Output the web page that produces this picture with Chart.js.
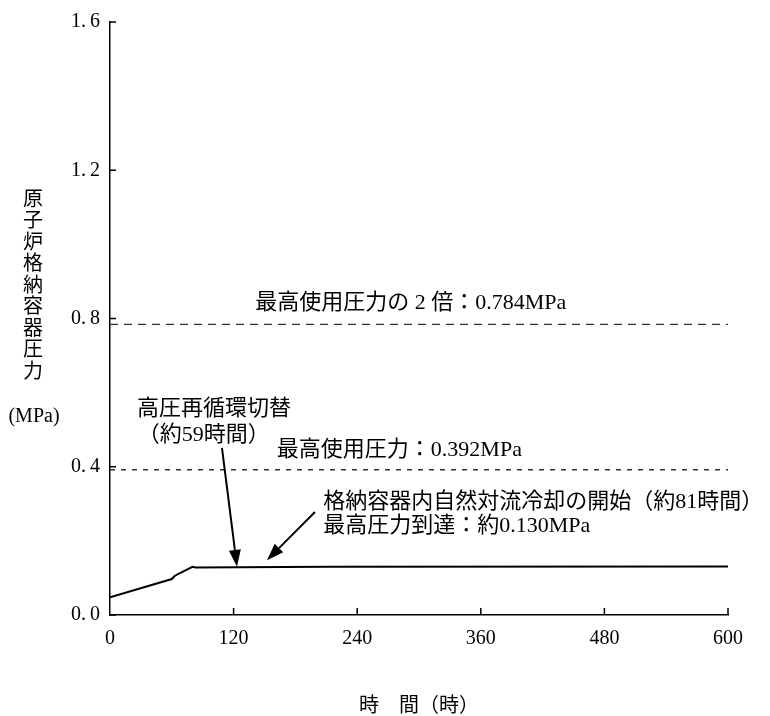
<!DOCTYPE html>
<html>
<head>
<meta charset="utf-8">
<script src="https://cdn.jsdelivr.net/npm/chart.js@4.4.1/dist/chart.umd.min.js"></script>
<style>
    body { margin: 0; background: #fff; }
    #wrap { width: 770px; height: 716px; }
</style>
</head>
<body>
<div id="wrap"><canvas id="pressureChart" width="770" height="716"></canvas></div>
<script>
// 時間 (h) と格納容器圧力 (MPa)
const hours = [0, 60, 63, 80, 83, 212, 600];
const pressure = [0.048, 0.097, 0.106, 0.130, 0.128, 0.130, 0.131];

const limitHours = [0, 600];
const designPressure = [0.392, 0.392];
const doublePressure = [0.784, 0.784];

const xTicks = [0, 120, 240, 360, 480, 600];
const yTicks = [0.0, 0.4, 0.8, 1.2, 1.6];

const yTitleChars = ["原", "子", "炉", "格", "納", "容", "器", "圧", "力"];

const SERIF = '"Liberation Serif", "Noto Sans CJK JP", serif';
const JP = '"Liberation Serif", "Noto Sans CJK JP", sans-serif';

const labels = [
    { text: "最高使用圧力の 2 倍：0.784MPa", x: 141, y: 0.842, align: "left" },
    { text: "最高使用圧力：0.392MPa", x: 162, y: 0.445, align: "left" },
    { text: "高圧再循環切替", x: 101, y: 0.556, align: "center" },
    { text: "（約59時間）", x: 91, y: 0.486, align: "center" },
    { text: "格納容器内自然対流冷却の開始（約81時間）", x: 207, y: 0.305, align: "left" },
    { text: "最高圧力到達：約0.130MPa", x: 207, y: 0.240, align: "left" }
];

const arrows = [
    { from: [108.7, 0.451], to: [123.3, 0.130] },
    { from: [199, 0.278], to: [152.4, 0.148] }
];

function toPoints(xs, ys) {
    return xs.map((v, i) => ({ x: v, y: ys[i] }));
}

function drawArrow(ctx, x1, y1, x2, y2) {
    const ang = Math.atan2(y2 - y1, x2 - x1);
    const len = 17, half = 6;
    const bx = x2 - len * Math.cos(ang);
    const by = y2 - len * Math.sin(ang);
    ctx.beginPath();
    ctx.moveTo(x1, y1);
    ctx.lineTo(bx, by);
    ctx.lineWidth = 2;
    ctx.stroke();
    ctx.beginPath();
    ctx.moveTo(x2, y2);
    ctx.lineTo(bx + half * Math.sin(ang), by - half * Math.cos(ang));
    ctx.lineTo(bx - half * Math.sin(ang), by + half * Math.cos(ang));
    ctx.closePath();
    ctx.fill();
}

const annotations = {
    id: "annotations",
    afterDraw(chart) {
        const { ctx, scales: { x, y } } = chart;
        ctx.save();
        ctx.strokeStyle = "#000";
        ctx.fillStyle = "#000";

        // 内向きの目盛り
        ctx.lineWidth = 1.5;
        ctx.beginPath();
        yTicks.forEach(v => {
            const py = y.getPixelForValue(v);
            ctx.moveTo(x.left, py);
            ctx.lineTo(x.left + 6, py);
        });
        xTicks.slice(1).forEach(v => {
            const px = x.getPixelForValue(v);
            ctx.moveTo(px, y.bottom);
            ctx.lineTo(px, y.bottom - 7);
        });
        ctx.stroke();

        // 注記
        ctx.font = "22px " + JP;
        ctx.textBaseline = "middle";
        labels.forEach(l => {
            ctx.textAlign = l.align;
            ctx.fillText(l.text, x.getPixelForValue(l.x), y.getPixelForValue(l.y));
        });

        arrows.forEach(a => {
            drawArrow(ctx,
                x.getPixelForValue(a.from[0]), y.getPixelForValue(a.from[1]),
                x.getPixelForValue(a.to[0]), y.getPixelForValue(a.to[1]));
        });

        // 縦書きの軸タイトル
        ctx.textAlign = "center";
        ctx.font = '20px "Noto Sans CJK JP", sans-serif';
        yTitleChars.forEach((c, i) => {
            ctx.fillText(c, 33, 198 + i * 21.5);
        });
        ctx.font = "20px " + SERIF;
        ctx.fillText("(MPa)", 34, 417);
        ctx.restore();
    }
};

Chart.defaults.color = "#000";

new Chart(document.getElementById("pressureChart").getContext("2d"), {
    type: "line",
    data: {
        datasets: [
            {
                data: toPoints(hours, pressure),
                borderColor: "#000",
                borderWidth: 2,
                pointRadius: 0,
                tension: 0
            },
            {
                data: toPoints(limitHours, doublePressure),
                borderColor: "#333",
                borderWidth: 1.2,
                borderDash: [8, 6],
                pointRadius: 0
            },
            {
                data: toPoints(limitHours, designPressure),
                borderColor: "#333",
                borderWidth: 1.4,
                borderDash: [5, 6],
                pointRadius: 0
            }
        ]
    },
    options: {
        responsive: false,
        animation: false,
        layout: { padding: { top: 22, right: 42, left: 0, bottom: 0 } },
        plugins: {
            legend: { display: false },
            tooltip: { enabled: false }
        },
        scales: {
            x: {
                type: "linear",
                min: 0,
                max: 600,
                afterBuildTicks: s => { s.ticks = xTicks.map(v => ({ value: v })); },
                afterFit: s => { s.height = 101; },
                grid: { display: false, drawTicks: false },
                border: { display: true, color: "#000", width: 1.5 },
                ticks: {
                    padding: 12,
                    font: { family: SERIF, size: 20 }
                },
                title: {
                    display: true,
                    text: "時　間（時）",
                    padding: { top: 0, bottom: 0 },
                    font: { family: '"Noto Sans CJK JP", sans-serif', size: 20 }
                }
            },
            y: {
                min: 0,
                max: 1.6,
                afterBuildTicks: s => { s.ticks = yTicks.map(v => ({ value: v })); },
                afterFit: s => { s.width = 110; },
                grid: { display: false, drawTicks: false },
                border: { display: true, color: "#000", width: 1.5 },
                ticks: {
                    padding: 10,
                    font: { family: SERIF, size: 20 },
                    callback: v => v.toFixed(1).replace(".", ".\u2009")
                }
            }
        }
    },
    plugins: [annotations]
});
</script>
</body>
</html>
